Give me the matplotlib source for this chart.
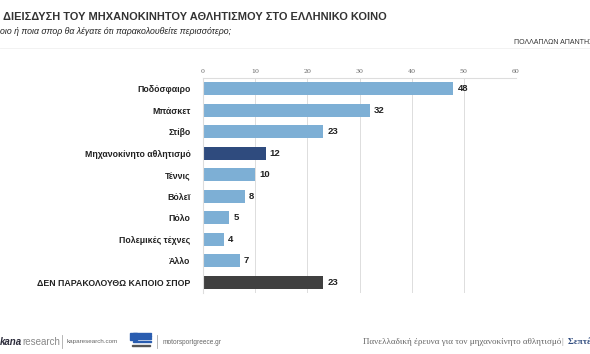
import matplotlib.pyplot as plt
from matplotlib.patches import Rectangle

categories = ["Ποδόσφαιρο", "Μπάσκετ", "Στίβο", "Μηχανοκίνητο αθλητισμό", "Τέννις",
              "Βόλεϊ", "Πόλο", "Πολεμικές τέχνες", "Άλλο", "ΔΕΝ ΠΑΡΑΚΟΛΟΥΘΩ ΚΑΠΟΙΟ ΣΠΟΡ"]
values = [48, 32, 23, 12, 10, 8, 5, 4, 7, 23]
ticks = [0, 10, 20, 30, 40, 50, 60]

light = "#7DAFD5"
navy = "#2F4B7E"
grey = "#404040"
colors = [light, light, light, navy, light, light, light, light, light, grey]

sans = "Liberation Sans"

W, H = 590, 354
fig = plt.figure(figsize=(W / 100, H / 100), dpi=100)
fig.patch.set_facecolor("white")

def fx(px):
    return px / W

def fy(py):
    return 1 - py / H

ax = fig.add_axes([fx(203), fy(293), fx(516) - fx(203), fy(78) - fy(293)])
ypos = list(range(len(categories)))
ax.barh(ypos, values, height=0.6, color=colors, zorder=2)
ax.set_ylim(len(categories) - 0.5, -0.5)
ax.set_xlim(0, 60)
ax.set_xticks(ticks)
ax.xaxis.tick_top()
ax.tick_params(axis="x", length=0, pad=3, labelsize=4.5, labelcolor="#666666")
ax.tick_params(axis="y", length=0, pad=9)
for lab in ax.get_xticklabels():
    lab.set_family("DejaVu Serif")
ax.set_yticks(ypos)
ax.set_yticklabels(categories, fontsize=6.3, fontweight="bold", color="#222222",
                   family=sans)
ax.grid(axis="x", color="#dddddd", linewidth=0.7, zorder=0)
for s in ["right", "bottom"]:
    ax.spines[s].set_visible(False)
ax.spines["top"].set_color("#dddddd")
ax.spines["left"].set_color("#dddddd")

for y, v in zip(ypos, values):
    ax.text(v + 0.8, y, str(v), va="center", ha="left", fontsize=6.8,
            fontweight="bold", color="#222222", family=sans)

# header
fig.text(fx(3), fy(17), "ΔΙΕΙΣΔΥΣΗ ΤΟΥ ΜΗΧΑΝΟΚΙΝΗΤΟΥ ΑΘΛΗΤΙΣΜΟΥ ΣΤΟ ΕΛΛΗΝΙΚΟ ΚΟΙΝΟ",
         fontsize=7.9, fontweight="bold", color="#333333", family=sans,
         va="center", ha="left")
fig.text(fx(0), fy(32), "οιο ή ποια σπορ θα λέγατε ότι παρακολουθείτε περισσότερο;",
         fontsize=6.3, style="italic", color="#222222", family=sans,
         va="center", ha="left")
fig.text(fx(514), fy(42), "ΠΟΛΛΑΠΛΩΝ ΑΠΑΝΤΗΣΕΩΝ", fontsize=5, color="#333333",
         family=sans, va="center", ha="left")
fig.add_artist(plt.Line2D([fx(0), fx(590)], [fy(48), fy(48)], color="#f0f0f0", linewidth=0.6))

# footer
kana = fig.text(fx(0), fy(345), "kana", fontsize=7, fontweight="bold", style="italic",
                color="#2b2b3a", family=sans, va="baseline", ha="left")
plt.annotate("research", xy=(1, 0), xycoords=kana, fontsize=7, color="#888888",
             family=sans, va="bottom", ha="left", annotation_clip=False)
fig.add_artist(plt.Line2D([fx(62), fx(62)], [fy(348), fy(335)], color="#aaaaaa", linewidth=0.6))
fig.text(fx(67), fy(342), "kaparesearch.com", fontsize=4.5, color="#666666",
         family=sans, va="center", ha="left")
for i in range(4):
    fig.add_artist(Rectangle((fx(133), fy(334 + i * 2.6)), fx(18), 1.3 / H,
                             color="#2a5db0", transform=fig.transFigure))
fig.add_artist(Rectangle((fx(130), fy(340)), fx(7), 7 / H, color="#2a5db0",
                         transform=fig.transFigure))
fig.add_artist(Rectangle((fx(132), fy(346)), fx(18), 0.8 / H, color="#555555",
                         transform=fig.transFigure))
fig.add_artist(plt.Line2D([fx(157), fx(157)], [fy(348), fy(335)], color="#aaaaaa", linewidth=0.6))
fig.text(fx(163), fy(342), "motorsportgreece.gr", fontsize=4.7, color="#666666",
         family=sans, va="center", ha="left")
fig.text(fx(363), fy(342), "Πανελλαδική έρευνα για τον μηχανοκίνητο αθλητισμό",
         fontsize=6.5, color="#666666", family="Liberation Serif", va="center", ha="left")
fig.text(fx(561), fy(342), "|", fontsize=6.5, color="#999999",
         family="Liberation Serif", va="center", ha="left")
fig.text(fx(568), fy(342), "Σεπτέμβριος 2019", fontsize=6.5, fontweight="bold",
         color="#2F4B7E", family="Liberation Serif", va="center", ha="left")

fig.savefig("out.png", dpi=100, facecolor="white")
